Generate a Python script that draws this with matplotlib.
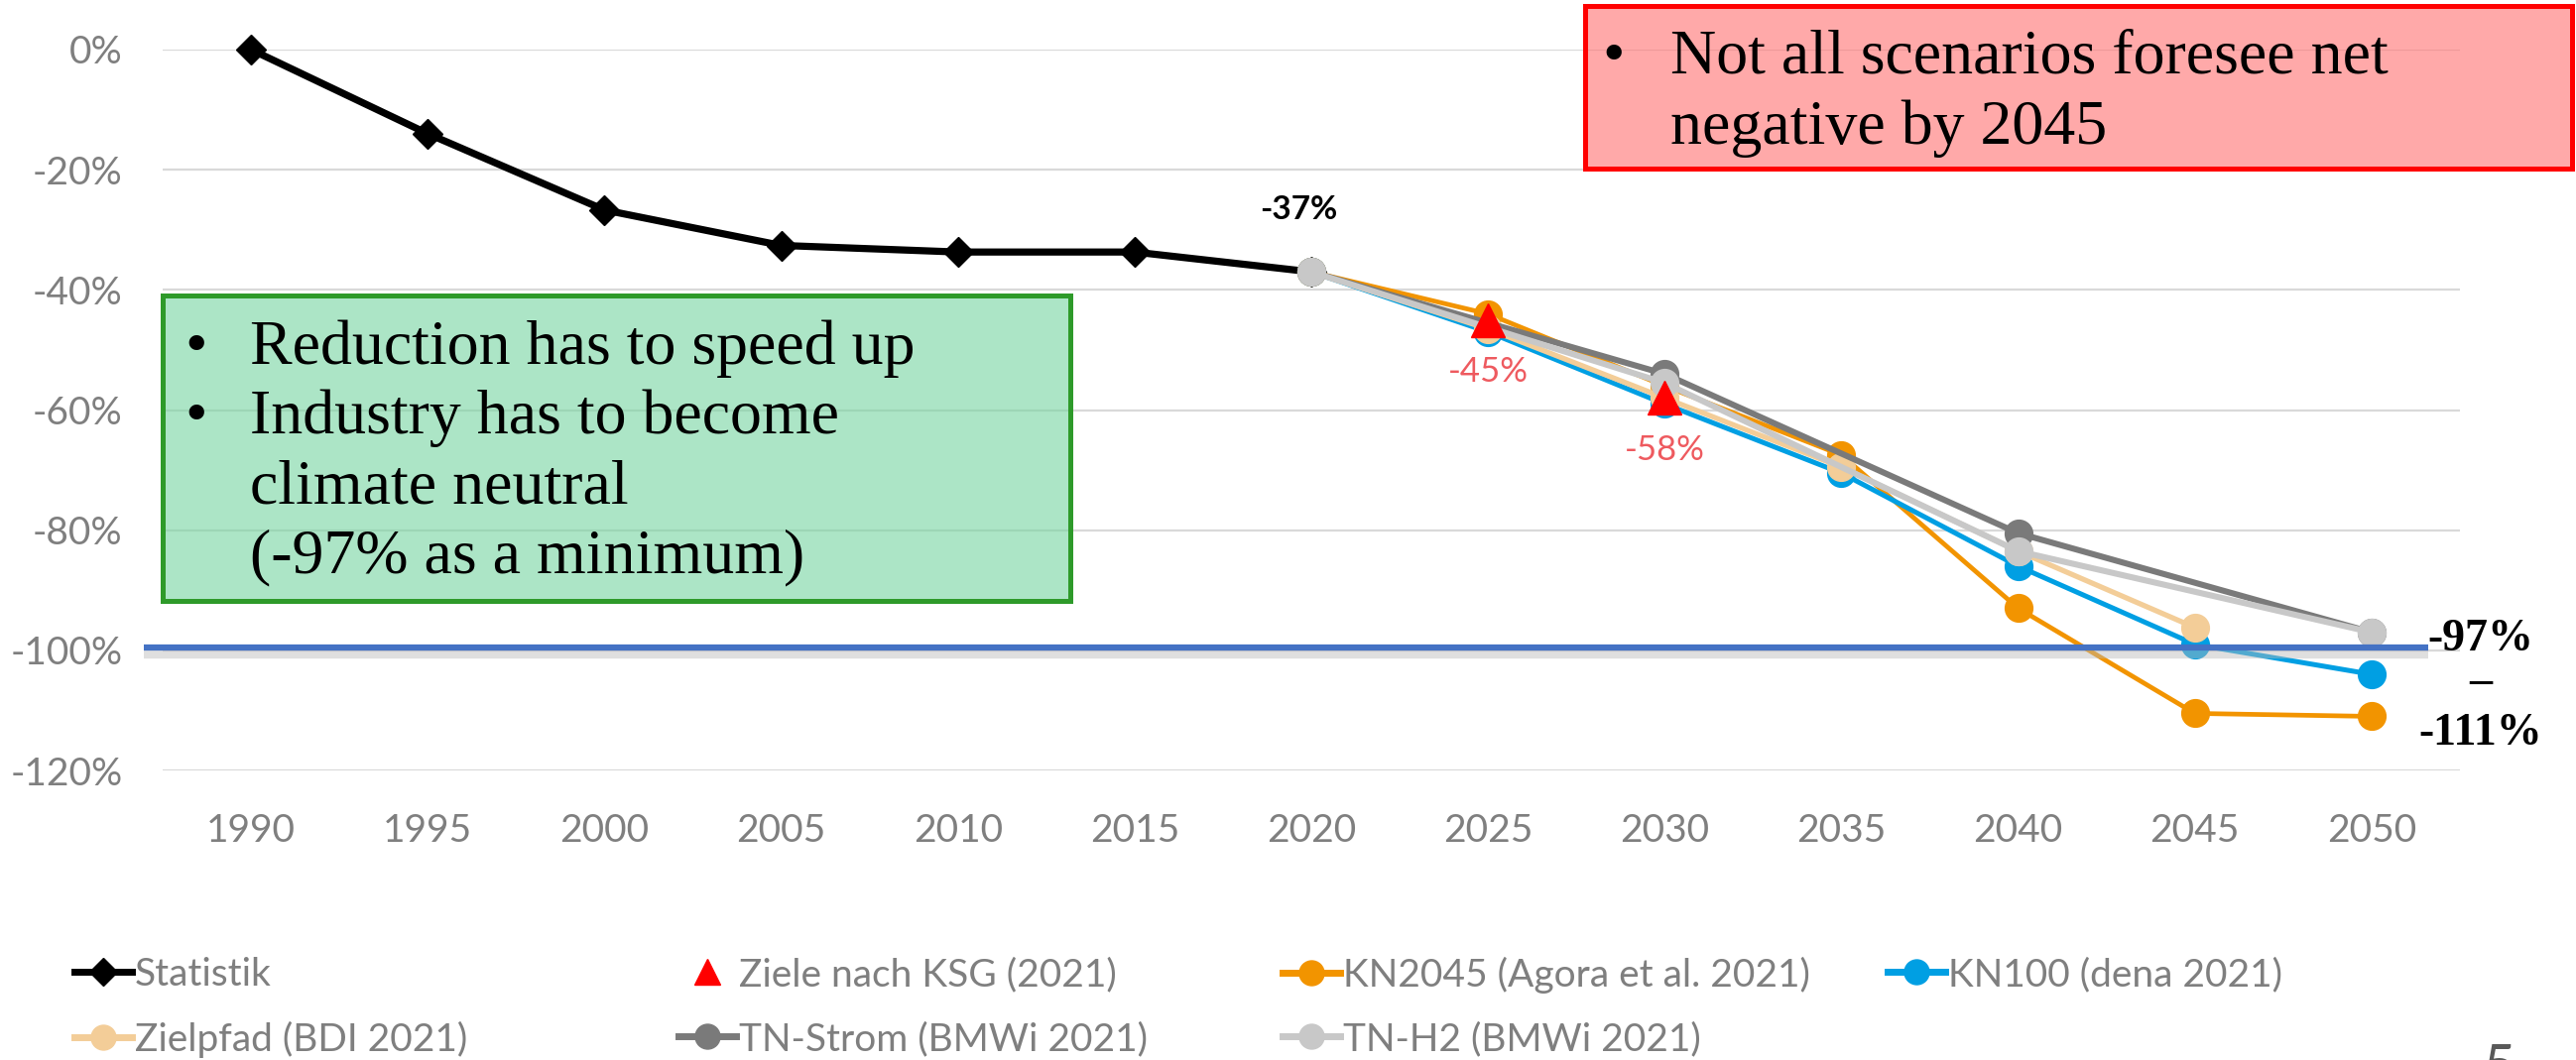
import matplotlib
matplotlib.use("Agg")
import matplotlib.pyplot as plt
from matplotlib.lines import Line2D
from matplotlib.patches import Rectangle

# ---- data -------------------------------------------------------------
year_ticks = list(range(1990, 2051, 5))
pct_ticks = [0, -20, -40, -60, -80, -100, -120]

stat_years = [1990, 1995, 2000, 2005, 2010, 2015, 2020]
stat_vals = [0, -14, -26.7, -32.6, -33.7, -33.7, -37]

ksg_years = [2025, 2030]
ksg_vals = [-45, -58]

scen_years = [2020, 2025, 2030, 2035, 2040, 2045, 2050]
kn2045_vals = [-37, -44, -56, -67.5, -93, -110.5, -111]
kn100_vals = [-37, -47, -59, -70.5, -86, -99, -104]

bdi_years = [2020, 2025, 2030, 2035, 2040, 2045]
bdi_vals = [-37, -46.5, -58, -69.5, -83.5, -96.2]

tn_years = [2020, 2030, 2040, 2050]
tn_strom_vals = [-37, -54, -80.5, -97]
tn_h2_vals = [-37, -55.5, -83.5, -97]

target = -100

# ---- styling ----------------------------------------------------------
sans = ["Lato", "Open Sans", "DejaVu Sans"]
serif = ["Liberation Serif", "DejaVu Serif"]
tick_grey = "#7F7F7F"
c_orange = "#F29400"
c_blue = "#009FE3"
c_tan = "#F3CD98"
c_dgrey = "#7A7A7A"
c_lgrey = "#C8C8C8"
c_red_lbl = "#EE5A5F"
fs_axis = 28

W, H = 2597, 1069
fig = plt.figure(figsize=(W / 100, H / 100), dpi=100)


def px(x, y):
    return x / W, 1 - y / H


ax = fig.add_axes([164 / W, 1 - 777 / H, (2480 - 164) / W, (777 - 50) / H])
ax.set_xlim(year_ticks[0] - 2.5, year_ticks[-1] + 2.5)
ax.set_ylim(pct_ticks[-1], pct_ticks[0])
for s in ax.spines.values():
    s.set_visible(False)
ax.set_axisbelow(True)
ax.yaxis.grid(True, color="#D9D9D9", lw=1.6)
ax.set_yticks(pct_ticks)
ax.set_yticklabels([f"{v}%" for v in pct_ticks])
ax.set_xticks(year_ticks)
ax.set_xticklabels([str(y) for y in year_ticks])
ax.tick_params(axis="y", length=0, pad=29, labelsize=fs_axis, labelcolor=tick_grey)
ax.tick_params(axis="x", length=0, pad=31, labelsize=fs_axis, labelcolor=tick_grey)
for lbl in ax.get_xticklabels() + ax.get_yticklabels():
    lbl.set_fontfamily(sans)

# series
ax.plot(stat_years, stat_vals, color="black", lw=5.2, marker="D", ms=15,
        zorder=3, clip_on=False)
ax.plot(scen_years, kn2045_vals, color=c_orange, lw=3.4, marker="o", ms=20,
        zorder=4, clip_on=False)
ax.plot(scen_years, kn100_vals, color=c_blue, lw=3.6, marker="o", ms=20,
        zorder=5, clip_on=False)
ax.plot(bdi_years, bdi_vals, color=c_tan, lw=3.8, marker="o", ms=20,
        zorder=6, clip_on=False)
ax.plot(tn_years, tn_strom_vals, color=c_dgrey, lw=4.4, marker="o", ms=20,
        zorder=7, clip_on=False)
ax.plot(tn_years, tn_h2_vals, color=c_lgrey, lw=4.4, marker="o", ms=20,
        zorder=8, clip_on=False)
ax.plot(ksg_years, ksg_vals, ls="none", color="red", marker="^", ms=24,
        zorder=9, clip_on=False)

# -100 % target line with a soft shadow
ytr = ax.get_yaxis_transform()
ax.plot([-0.008, 0.986], [target - 0.7, target - 0.7], transform=ytr,
        color="#B8B8B8", lw=6, alpha=0.45, zorder=9.5, clip_on=False,
        solid_capstyle="butt")
ax.plot([-0.008, 0.986], [target + 0.5, target + 0.5], transform=ytr,
        color="#4472C4", lw=4.5, zorder=10, clip_on=False,
        solid_capstyle="butt")

# value labels
ax.annotate(f"{stat_vals[-1]:.0f}%", (stat_years[-1], stat_vals[-1]),
            xytext=(-9, 45), textcoords="offset points", ha="center",
            va="center", fontsize=24, fontweight="bold", family=sans,
            color="black", zorder=12)
for yr, v in zip(ksg_years, ksg_vals):
    ax.annotate(f"{v:.0f}%", (yr, v), xytext=(0, -38), textcoords="offset points",
                ha="center", va="center", fontsize=25, family=sans,
                color=c_red_lbl, zorder=12)

fig.text(*px(2501, 645), f"{tn_h2_vals[-1]:.0f}%", ha="center", va="center",
         fontsize=33, fontweight="bold", family=serif)
fig.text(*px(2501, 688), "\u2013", ha="center", va="center",
         fontsize=33, fontweight="bold", family=serif)
fig.text(*px(2501, 740), f"{kn2045_vals[-1]:.0f}%", ha="center", va="center",
         fontsize=33, fontweight="bold", family=serif)

# annotation boxes
green = Rectangle(px(164, 606), (1079 - 164) / W, (606 - 298) / H,
                  transform=fig.transFigure,
                  facecolor=(117 / 255, 212 / 255, 160 / 255, 0.6),
                  edgecolor="#2E9A2A", lw=3.6, zorder=2)
fig.add_artist(green)
red = Rectangle(px(1598, 170), (2593 - 1598) / W, (170 - 6) / H,
                transform=fig.transFigure,
                facecolor=(1.0, 112 / 255, 112 / 255, 0.6),
                edgecolor="#FF0000", lw=3.6, zorder=2)
fig.add_artist(red)

box_fs = 46
green_lines = [("\u2022", "Reduction has to speed up", 367),
               ("\u2022", "Industry has to become", 437),
               ("", "climate neutral", 507),
               ("", "(-97% as a minimum)", 577)]
for bullet, txt, base in green_lines:
    if bullet:
        fig.text(*px(186, base), bullet, fontsize=box_fs, family=serif,
                 va="baseline", ha="left", zorder=3)
    fig.text(*px(252, base), txt, fontsize=box_fs, family=serif,
             va="baseline", ha="left", zorder=3)

red_lines = [("\u2022", "Not all scenarios foresee net", 74),
             ("", "negative by 2045", 145)]
for bullet, txt, base in red_lines:
    if bullet:
        fig.text(*px(1615, base), bullet, fontsize=box_fs, family=serif,
                 va="baseline", ha="left", zorder=3)
    fig.text(*px(1684, base), txt, fontsize=box_fs, family=serif,
             va="baseline", ha="left", zorder=3)

# legend, laid out in two rows of fixed-width columns
legend_items = [
    (Line2D([], [], color="black", lw=5, marker="D", ms=14), "Statistik", 75, 983),
    (Line2D([], [], ls="none", color="red", marker="^", ms=19), "Ziele nach KSG (2021)", 684, 983),
    (Line2D([], [], color=c_orange, lw=5, marker="o", ms=18), "KN2045 (Agora et al. 2021)", 1293, 983),
    (Line2D([], [], color=c_blue, lw=5, marker="o", ms=18), "KN100 (dena 2021)", 1903, 983),
    (Line2D([], [], color=c_tan, lw=5, marker="o", ms=18), "Zielpfad (BDI 2021)", 75, 1048),
    (Line2D([], [], color=c_dgrey, lw=5, marker="o", ms=18), "TN-Strom (BMWi 2021)", 684, 1048),
    (Line2D([], [], color=c_lgrey, lw=5, marker="o", ms=18), "TN-H2 (BMWi 2021)", 1293, 1048),
]
for handle, label, lx, ly in legend_items:
    leg = fig.legend([handle], [label], loc="center left",
                     bbox_to_anchor=px(lx, ly), frameon=False, borderpad=0,
                     borderaxespad=0, handlelength=1.5, handletextpad=0.06,
                     prop={"family": sans, "size": 28})
    for t in leg.get_texts():
        t.set_color(tick_grey)

fig.text(*px(2520, 1052), "5", ha="center", va="top", fontsize=40,
         family=sans, color="#595959")

fig.savefig("out.png", dpi=100)
